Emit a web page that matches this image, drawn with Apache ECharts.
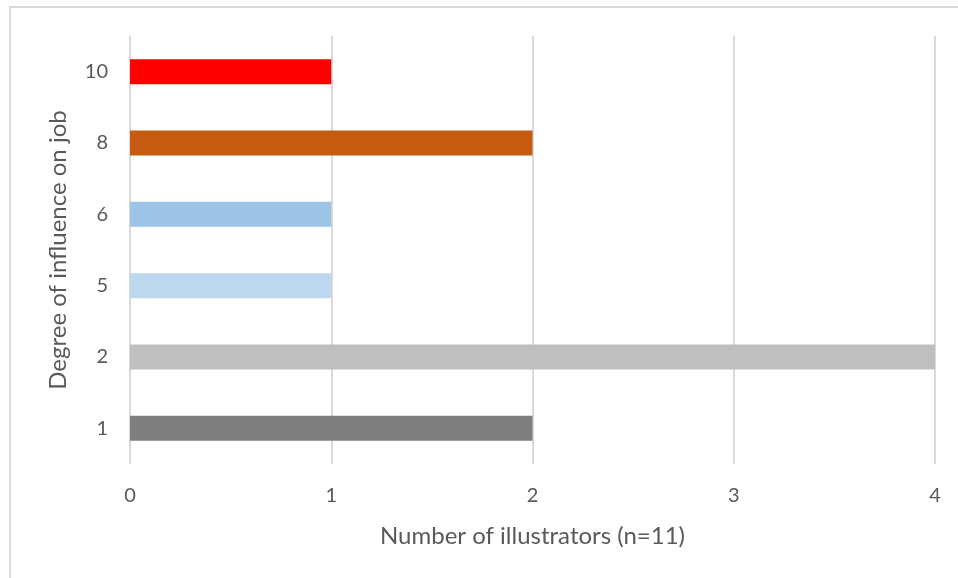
<!DOCTYPE html>
<html>
<head>
<meta charset="utf-8">
<script src="https://cdn.jsdelivr.net/npm/echarts@6/dist/echarts.min.js"></script>
<style>
  html, body { margin: 0; padding: 0; background: #fff; }
  #frame { position: absolute; left: 9px; top: 6px; width: 960px; height: 580px; border: 2px solid #d9d9d9; box-sizing: border-box; }
  #chart { position: absolute; left: 0; top: 0; width: 958px; height: 578px; }
</style>
</head>
<body>
<div id="frame"></div>
<div id="chart"></div>
<script>
// Degree of influence categories (bottom to top) and illustrator counts
const degrees = ['1', '2', '5', '6', '8', '10'];
const counts = [2, 4, 1, 1, 2, 1];
const barColors = ['#7f7f7f', '#c0bfbf', '#bdd7ee', '#9dc3e6', '#c55a11', '#ff0000'];
const xTicks = [0, 1, 2, 3, 4];

const font = 'Lato, "Open Sans", sans-serif';
const chart = echarts.init(document.getElementById('chart'));
chart.setOption({
  backgroundColor: 'transparent',
  animation: false,
  grid: { left: 130, right: 23, top: 36, bottom: 114, containLabel: false },
  xAxis: {
    type: 'value',
    min: xTicks[0],
    max: xTicks[xTicks.length - 1],
    interval: 1,
    name: 'Number of illustrators (n=11)',
    nameLocation: 'middle',
    nameGap: 60,
    nameTextStyle: { fontFamily: font, fontSize: 24, color: '#595959' },
    axisLine: { show: false },
    axisTick: { show: false },
    axisLabel: { fontFamily: font, fontSize: 20, color: '#595959', margin: 22 },
    splitLine: { lineStyle: { color: '#d9d9d9', width: 2 } }
  },
  yAxis: {
    type: 'category',
    data: degrees,
    name: 'Degree of influence on job',
    nameLocation: 'middle',
    nameGap: 60,
    nameTextStyle: { fontFamily: font, fontSize: 24, color: '#595959' },
    axisLine: { show: false },
    axisTick: { show: false },
    axisLabel: { fontFamily: font, fontSize: 20, color: '#595959', margin: 22 }
  },
  series: [{
    type: 'bar',
    barWidth: 25,
    data: counts.map((v, i) => ({ value: v, itemStyle: { color: barColors[i] } }))
  }]
});
</script>
</body>
</html>
